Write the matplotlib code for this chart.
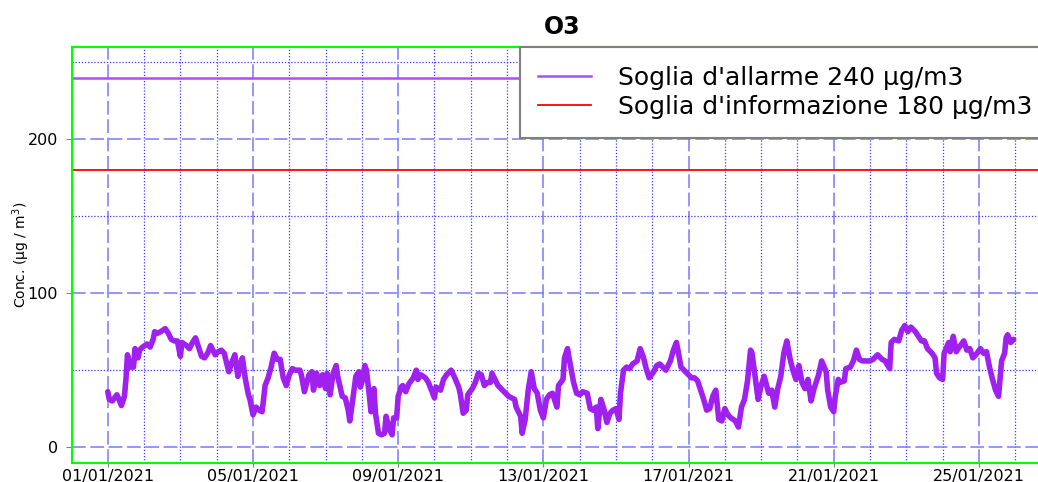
import pandas as pd
import matplotlib
matplotlib.use('Agg')
import matplotlib.pyplot as plt
import matplotlib.dates as mdates
from matplotlib.ticker import MultipleLocator

# ore dal 01/01/2021 00:00 e concentrazione O3 (µg/m3)
hours = [0, 1, 3, 6, 7, 9, 11, 12, 13, 15, 17, 18, 20, 21, 23, 26, 28, 30, 31, 33,
         35, 38, 40, 42, 44, 46, 48, 49, 52, 54, 56, 58, 60, 62, 64, 66, 68, 71, 73, 75,
         77, 80, 82, 84, 86, 88, 89, 91, 93, 94, 96,
         98, 100, 102, 103, 104, 106, 108, 110, 112, 114, 116, 118, 120, 122, 124, 127, 128, 130, 133, 135,
         136, 138, 140, 142, 144, 145, 147, 149, 151, 152, 155, 157, 159, 160, 162, 164, 166, 167, 168, 170,
         171, 173, 174, 176, 177, 179, 181, 183, 184, 186, 188, 189, 191, 192, 194, 195, 197, 199,
         202, 204, 205, 207, 210, 212, 214, 216, 217, 220, 222, 224, 227, 229, 232, 233, 235, 237, 238, 241,
         243, 245, 247, 249, 251, 253, 254, 256, 258, 260, 263, 265, 267, 269, 270, 273, 274, 276, 278, 280,
         282, 284, 286, 288, 290, 292,
         294, 297, 298, 301, 302, 304, 305, 308, 310, 312, 314, 317, 319, 321, 323, 324, 326, 328, 330, 332,
         334, 336, 338, 339, 341, 343, 345, 347, 350, 352, 354, 356, 358, 361, 363, 365, 367, 369, 372, 374,
         376, 377, 379, 382, 384, 386, 388,
         390, 392, 394, 396, 398, 400, 402, 404, 406, 408, 410, 412, 415, 417, 419, 421, 423, 425, 426, 428,
         430, 432, 434, 437, 439, 441, 443, 445, 447, 449, 451, 453, 455, 457, 459, 461, 463, 465, 467, 470,
         472,
         475, 476, 478, 480, 481, 483, 484, 487, 488, 491, 493, 495, 497, 499, 502, 504, 506, 509, 512, 514,
         517, 518, 520, 523, 525, 527, 529, 531, 534, 536, 538, 540, 542, 545, 547, 548, 550, 552, 553, 556,
         557, 559, 561, 563, 566, 568, 570, 572, 574, 577, 579, 581, 583, 585, 587, 589, 591, 593, 594, 595,
         597, 599]
o3 = [36, 31, 30, 34, 32, 27, 33, 44, 60, 52, 52, 64, 58, 63, 65, 67, 65, 70, 75, 74,
      75, 77, 74, 70, 69, 69, 59, 68, 66, 64, 68, 71, 65, 59, 58, 61, 66, 60, 62, 63,
      61, 49, 55, 60, 46, 55, 58, 44, 34, 31, 21,
      26, 24, 23, 31, 40, 45, 52, 61, 57, 57, 45, 40, 47, 51, 50, 50, 47, 36, 47, 49,
      37, 48, 40, 47, 38, 48, 34, 48, 53, 46, 33, 32, 24, 17, 31, 46, 49, 39, 42, 53,
      50, 33, 23, 38, 22, 9, 8, 9, 20, 12, 8, 19, 19, 33, 39, 40, 36, 41,
      45, 50, 44, 47, 45, 42, 37, 32, 39, 37, 44, 47, 50, 46, 39, 35, 22, 24, 34, 38,
      42, 48, 47, 40, 42, 42, 48, 44, 40, 38, 35, 33, 32, 31, 26, 20, 9, 18, 37, 49,
      38, 35, 24, 19, 31, 34,
      35, 26, 40, 44, 58, 64, 58, 42, 35, 34, 36, 35, 25, 24, 26, 12, 31, 25, 16, 22,
      24, 25, 18, 35, 50, 52, 51, 54, 56, 64, 59, 51, 45, 49, 53, 54, 52, 50, 56, 63,
      68, 63, 52, 49, 47, 45, 45,
      43, 37, 31, 24, 25, 33, 37, 18, 17, 25, 21, 19, 17, 13, 26, 31, 43, 63, 61, 46,
      31, 40, 46, 35, 37, 26, 38, 46, 61, 69, 58, 50, 44, 53, 42, 38, 44, 30, 38, 47,
      56,
      49, 37, 26, 23, 33, 44, 42, 43, 51, 52, 56, 63, 57, 56, 56, 56, 57, 60, 57, 56,
      51, 68, 70, 69, 76, 79, 75, 78, 75, 72, 69, 69, 64, 61, 58, 48, 45, 44, 61, 68,
      62, 72, 62, 65, 69, 63, 64, 58, 60, 64, 61, 62, 52, 44, 37, 33, 56, 61, 71, 73,
      68, 70]

soglia_allarme = 240
soglia_info = 180
label_allarme = "Soglia d'allarme 240 µg/m3"
label_info = "Soglia d'informazione 180 µg/m3"
tick_days = [1, 5, 9, 13, 17, 21, 25, 29]

times = pd.Timestamp('2021-01-01') + pd.to_timedelta(hours, unit='h')

W, H = 1038, 482
fig = plt.figure(figsize=(W / 100, H / 100), dpi=100)
ax = fig.add_axes([71.5 / W, 1 - 462.5 / H, 980 / W, 415.5 / H])

ax.plot(times, o3, color='#a020f0', lw=4, solid_joinstyle='round', solid_capstyle='round', zorder=3)
l240 = ax.axhline(soglia_allarme, color='#b04cf5', lw=1.8, label=label_allarme, zorder=2)
l180 = ax.axhline(soglia_info, color='#ff0000', lw=1.3, label=label_info, zorder=2)

ax.set_xlim(pd.Timestamp('2020-12-31'), pd.Timestamp('2021-01-27'))
ax.set_ylim(-10, 260)

ax.xaxis.set_major_locator(mdates.DayLocator(bymonthday=tick_days))
ax.xaxis.set_minor_locator(mdates.DayLocator())
ax.xaxis.set_major_formatter(mdates.DateFormatter('%d/%m/%Y'))
ax.yaxis.set_major_locator(MultipleLocator(100))
ax.yaxis.set_minor_locator(MultipleLocator(50))

ax.grid(which='major', color='#7878ff', linestyle=(0, (9, 3)), lw=1.1)
ax.grid(which='minor', color='#3a3aff', linestyle=(0, (1, 1.5)), lw=0.9)

ax.tick_params(which='minor', length=0)
ax.tick_params(axis='y', which='major', length=4.3, color='gray', labelsize=11.5, pad=5.3)
ax.tick_params(axis='x', which='major', length=2.6, color='gray', labelsize=11.5, pad=2.4)

for s in ax.spines.values():
    s.set_color('#00ff00')
    s.set_linewidth(1.5)

ax.set_ylabel('Conc. (µg / m$^3$)', fontsize=10)
ax.yaxis.set_label_coords(-0.040, 0.5)

leg = ax.legend(handles=[l240, l180], loc='upper right', bbox_to_anchor=(1, 1), borderaxespad=0,
                fontsize=18, frameon=True, fancybox=False, edgecolor='#808080', framealpha=1,
                handlelength=2.1, handletextpad=1.1, labelspacing=0.2, borderpad=0.75)
leg.get_frame().set_linewidth(1.5)

fig.text(562 / W, 1 - 34 / H, 'O3', ha='center', va='baseline', fontsize=17, fontweight='bold')

fig.savefig('out.png', dpi=100)
